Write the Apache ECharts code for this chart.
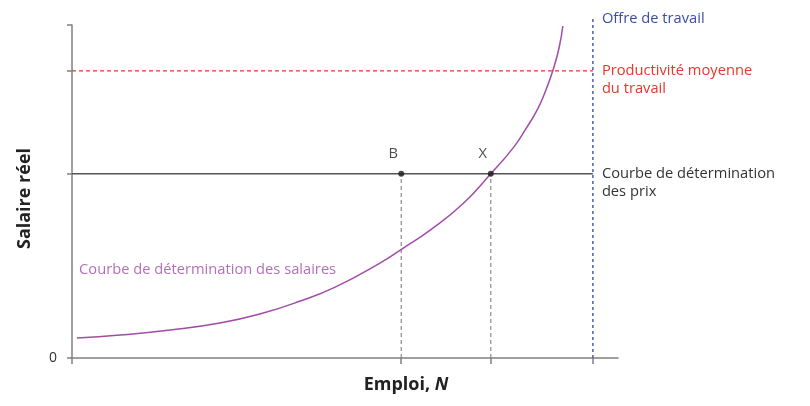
<!DOCTYPE html>
<html><head><meta charset="utf-8">
<script src="https://cdn.jsdelivr.net/npm/echarts@6/dist/echarts.min.js"></script>
<style>html,body{margin:0;padding:0;background:#fff}#c{width:810px;height:406px}</style>
</head><body><div id="c"></div>
<script>
// Key employment levels (x) and wage levels (y), arbitrary units
const empB = 6.03;
const empX = 7.67;
const labourForce = 9.54;
const priceWage = 5.53;
const productivity = 8.62;
const supplyTop = 10.27;
const xTicks = [0, empB, empX, labourForce];
const yTicks = [0, priceWage, productivity, 10];
// Wage-setting curve
const wageCurve = [[0.09,0.60],[0.88,0.69],[1.80,0.84],[2.71,1.05],[3.44,1.32],[4.18,1.71],[4.82,2.13],[5.64,2.85],[6.04,3.27],[6.56,3.84],[7.16,4.63],[7.67,5.53],[8.08,6.31],[8.30,6.85],[8.52,7.45],[8.68,8.05],[8.81,8.65],[8.92,9.31],[8.99,9.97]];
const pointNames = ['B', 'X'];
const labelWage = 'Courbe de détermination des salaires';
const labelPrice = 'Courbe de détermination\ndes prix';
const labelProd = 'Productivité moyenne\ndu travail';
const labelSupply = 'Offre de travail';
const wageLabelPos = [0.13, 2.64];

const FONT = '"Open Sans", "Noto Sans", sans-serif';
const FS = 14.7;
const chart = echarts.init(document.getElementById('c'), null, {renderer:'canvas'});
const axisCol = '#808080';
function seg(data, color, type, width, extra){
  return Object.assign({type:'line', data, symbol:'none', silent:true,
    lineStyle:{color, type, width}, itemStyle:{color}, z:2}, extra||{});
}
chart.setOption({
  animation:false,
  textStyle:{fontFamily:FONT},
  grid:{left:72, right:192, top:25, bottom:48},
  xAxis:{type:'value', min:0, max:10,
    name:'{a|Emploi, }{b|N}', nameLocation:'middle', nameGap:18,
    nameTextStyle:{padding:[0,0,0,122], rich:{
      a:{fontFamily:FONT, fontWeight:'bold', fontSize:18, color:'#222'},
      b:{fontFamily:FONT, fontWeight:'bold', fontStyle:'italic', fontSize:18, color:'#222'}}},
    axisLine:{show:true, lineStyle:{color:axisCol, width:1.5}},
    axisTick:{show:true, length:6, customValues:xTicks, lineStyle:{color:axisCol, width:1.5}},
    axisLabel:{show:false}, splitLine:{show:false}},
  yAxis:{type:'value', min:0, max:10,
    name:'Salaire réel', nameLocation:'middle', nameGap:38, nameRotate:90,
    nameTextStyle:{fontFamily:FONT, fontWeight:'bold', fontSize:18, color:'#222', padding:[0,14,0,0]},
    axisLine:{show:true, lineStyle:{color:axisCol, width:1.5}},
    axisTick:{show:true, length:5, customValues:yTicks, lineStyle:{color:axisCol, width:1.5}},
    axisLabel:{customValues:[0], margin:15, fontSize:14, color:'#333', fontFamily:FONT},
    splitLine:{show:false}},
  series:[
    seg([[empB,0],[empB,priceWage]], '#8a8a8a', [4,3], 1.2),
    seg([[empX,0],[empX,priceWage]], '#8a8a8a', [4,3], 1.2),
    seg([[0,productivity],[labourForce,productivity]], '#e5372d', [4,3], 1.2, {
      endLabel:{show:true, formatter:labelProd, distance:9, offset:[0,9], color:'#e5372d', fontSize:FS, lineHeight:18, fontFamily:FONT}}),
    seg([[0,priceWage],[labourForce,priceWage]], '#555555', 'solid', 1.5, {
      endLabel:{show:true, formatter:labelPrice, distance:9, offset:[0,9], color:'#333', fontSize:FS, lineHeight:18, fontFamily:FONT}}),
    seg([[labourForce,0],[labourForce,supplyTop]], '#4a5cc0', [3,3], 1.5, {clip:false,
      endLabel:{show:true, formatter:labelSupply, distance:9, offset:[0,3], color:'#3c4ea0', fontSize:FS, fontFamily:FONT}}),
    {type:'line', data:wageCurve, smooth:0.5, symbol:'none', clip:false, silent:true,
      lineStyle:{color:'#a04ca6', width:1.5}, z:3},
    {type:'scatter', data:[[empB,priceWage],[empX,priceWage]], symbolSize:6, silent:true,
      itemStyle:{color:'#1a1a1a'}, z:5,
      label:{show:true, position:'top', distance:10, offset:[-8,0], color:'#222', fontSize:FS, fontFamily:FONT,
        formatter:p=>pointNames[p.dataIndex]}},
    {type:'scatter', data:[wageLabelPos], symbolSize:0, silent:true,
      label:{show:true, position:'right', distance:0, color:'#a04ca6', fontSize:FS, fontFamily:FONT, formatter:labelWage}}
  ]
});
</script></body></html>
